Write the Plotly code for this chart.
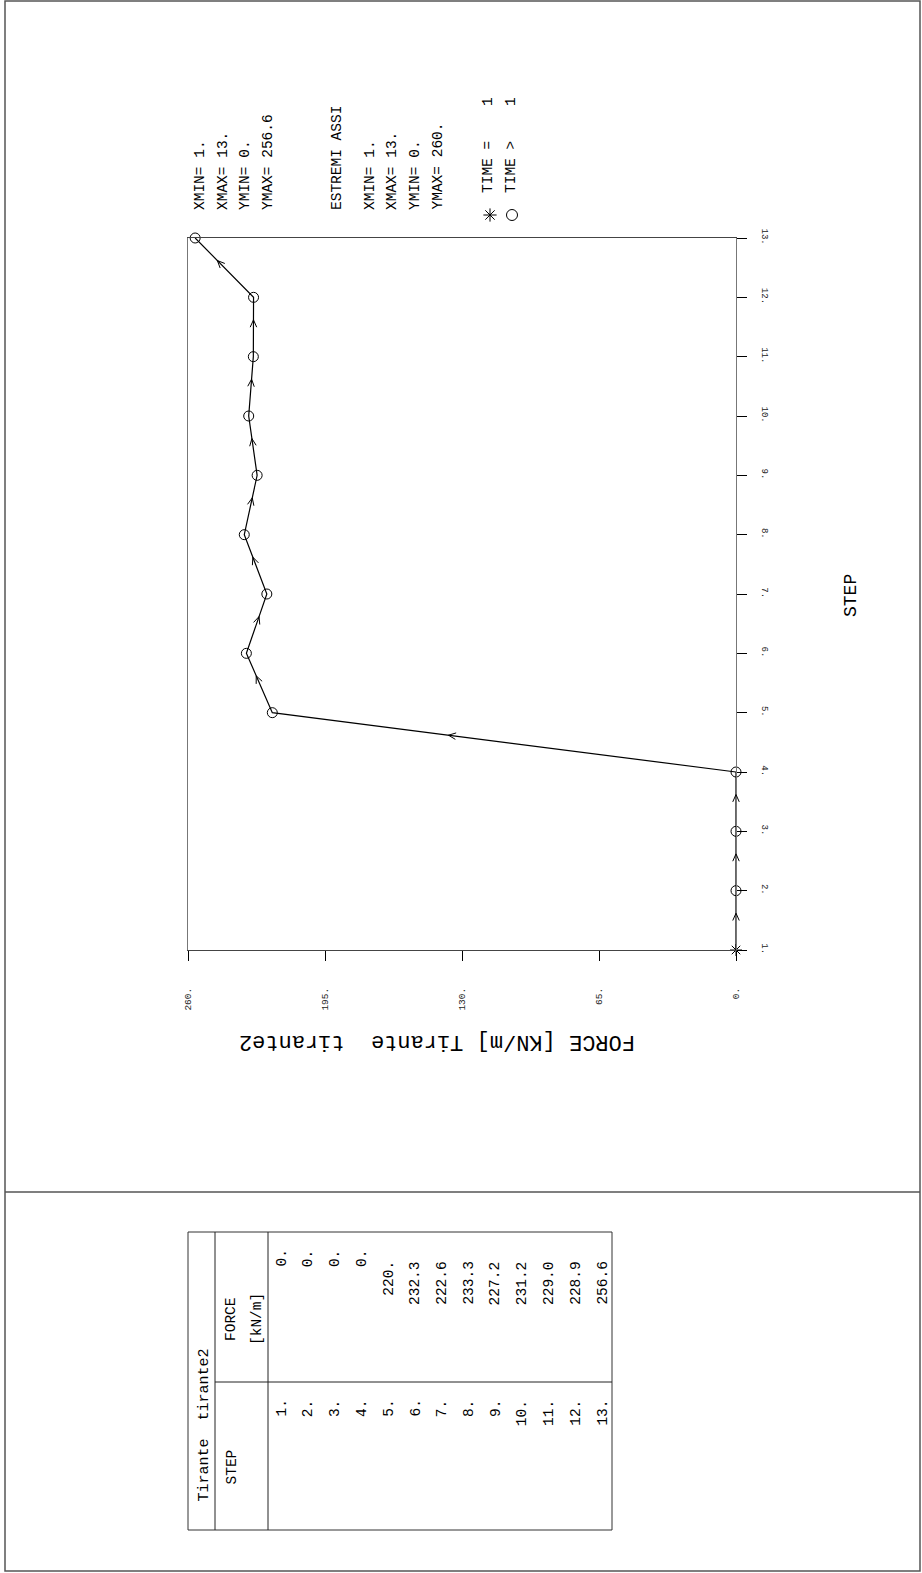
import math
import plotly.graph_objects as go

# ---------------- data ----------------
steps = [1, 2, 3, 4, 5, 6, 7, 8, 9, 10, 11, 12, 13]
force = [0.0, 0.0, 0.0, 0.0, 220.0, 232.3, 222.6, 233.3, 227.2, 231.2, 229.0, 228.9, 256.6]
step_text = ["1.", "2.", "3.", "4.", "5.", "6.", "7.", "8.", "9.", "10.", "11.", "12.", "13."]
force_text = ["0.", "0.", "0.", "0.", "220.", "232.3", "222.6", "233.3", "227.2", "231.2", "229.0", "228.9", "256.6"]
step_ticks = steps
force_ticks = [0, 65, 130, 195, 260]
force_ticktext = ["0.", "65.", "130.", "195.", "260."]
info_data = ["XMIN= 1.", "XMAX= 13.", "YMIN= 0.", "YMAX= 256.6"]
info_axes_title = "ESTREMI ASSI"
info_axes = ["XMIN= 1.", "XMAX= 13.", "YMIN= 0.", "YMAX= 260."]
legend_text = ["TIME =\u00a0\u00a0\u00a0\u00a01", "TIME >\u00a0\u00a0\u00a0\u00a01"]
x_title = "FORCE [KN/m] Tirante\u00a0\u00a0tirante2"
y_title = "STEP"
table_title = "Tirante\u00a0\u00a0tirante2"

# ---------------- layout geometry ----------------
W, H = 922, 1573
PX0, PX1 = 188, 736      # plot area left/right (pixels)
PY0, PY1 = 238, 950      # plot area top/bottom (pixels)
F_MIN, F_MAX = 0, 260
S_MIN, S_MAX = 1, 13
FONT = "Liberation Mono"


def px(x):
    return x / W


def py(y):
    return 1 - y / H


def to_px(f, s):
    return (PX1 - (f - F_MIN) / (F_MAX - F_MIN) * (PX1 - PX0),
            PY1 - (s - S_MIN) / (S_MAX - S_MIN) * (PY1 - PY0))


fig = go.Figure()

# direction chevrons along the path (drawn on the page overlay axis, derived from the data)
cx, cy = [], []
ARM, ANG, FRAC = 8.0, math.radians(24), 0.62
for i in range(len(steps) - 1):
    x0, y0 = to_px(force[i], steps[i])
    x1, y1 = to_px(force[i + 1], steps[i + 1])
    L = math.hypot(x1 - x0, y1 - y0)
    dx, dy = (x1 - x0) / L, (y1 - y0) / L
    tx, ty = x0 + FRAC * (x1 - x0), y0 + FRAC * (y1 - y0)
    bx, by = -dx, -dy
    pts = []
    for a in (ANG, -ANG):
        rx = bx * math.cos(a) - by * math.sin(a)
        ry = bx * math.sin(a) + by * math.cos(a)
        pts.append((tx + ARM * rx, ty + ARM * ry))
    for (ax_, ay_) in (pts[0], (tx, ty), pts[1]):
        cx.append(ax_)
        cy.append(ay_)
    cx.append(None)
    cy.append(None)

fig.add_trace(go.Scatter(x=force, y=steps, mode="lines+markers",
                         line=dict(color="black", width=1.2),
                         marker=dict(symbol=["asterisk-open"] + ["circle-open"] * (len(steps) - 1),
                                     size=10, color="black", line=dict(color="black", width=1)),
                         cliponaxis=False, showlegend=False, hoverinfo="skip"))
fig.add_trace(go.Scatter(x=cx, y=cy, mode="lines", line=dict(color="black", width=1),
                         xaxis="x2", yaxis="y2",
                         cliponaxis=False, showlegend=False, hoverinfo="skip"))

# legend keys on the page overlay axis
fig.add_trace(go.Scatter(x=[490, 512], y=[215, 215], mode="markers", xaxis="x2", yaxis="y2",
                         marker=dict(symbol=["asterisk-open", "circle-open"], size=11, color="black",
                                     line=dict(color="black", width=1)),
                         showlegend=False, hoverinfo="skip", cliponaxis=False))

shapes = []
def line(x0, y0, x1, y1, color="#444", width=1):
    shapes.append(dict(type="line", xref="paper", yref="paper", x0=px(x0), y0=py(y0), x1=px(x1), y1=py(y1),
                       line=dict(color=color, width=width)))

# page frame
shapes.append(dict(type="rect", xref="paper", yref="paper", x0=px(5), y0=py(1), x1=px(920), y1=py(1571),
                   line=dict(color="#555", width=1.5)))
line(5, 1192, 920, 1192, "#555", 1.5)
# table frame
shapes.append(dict(type="rect", xref="paper", yref="paper", x0=px(188), y0=py(1232), x1=px(612), y1=py(1530),
                   line=dict(color="#333", width=1)))
line(215, 1232, 215, 1530, "#222")
line(268, 1232, 268, 1530, "#222")
line(215, 1382, 612, 1382, "#222")

ann = []
def txt(text, x, y, size=14.5, angle=-90, xa="center", ya="bottom"):
    ann.append(dict(text=text, x=px(x), y=py(y), xref="paper", yref="paper", showarrow=False,
                    textangle=angle, xanchor=xa, yanchor=ya, borderpad=0, borderwidth=0,
                    font=dict(family=FONT, size=size, color="black")))

for t, x in zip(info_data, [200, 223, 245, 268]):
    txt(t, x, 210)
txt(info_axes_title, 337, 210)
for t, x in zip(info_axes, [370, 392, 415, 438]):
    txt(t, x, 210)
txt(legend_text[0], 488, 193)
txt(legend_text[1], 511, 193)

txt(x_title, 437, 1042, size=22, angle=180, ya="middle")
txt(y_title, 851, 596, size=18, ya="middle")

# table texts
txt(table_title, 204, 1502, size=15)
txt("STEP", 231, 1485)
txt("FORCE", 231, 1319, ya="middle")
txt("[kN/m]", 257, 1319, ya="middle")
for i, (s, f) in enumerate(zip(step_text, force_text)):
    x = 281 + 26.8 * i
    txt(s, x, 1400, ya="top")
    txt(f, x, 1250 if f == "0." else 1261, ya="top")

fig.update_layout(
    width=W, height=H, margin=dict(l=0, r=0, t=0, b=0, pad=0, autoexpand=False),
    paper_bgcolor="white", plot_bgcolor="rgba(0,0,0,0)",
    shapes=shapes, annotations=ann,
    xaxis=dict(domain=[px(PX0), px(PX1)], range=[F_MAX, F_MIN], tickvals=force_ticks, ticktext=force_ticktext,
               ticks="outside", ticklen=10, tickcolor="black", tickwidth=1, tickangle=-90,
               ticklabelstandoff=23, automargin=False,
               showline=True, linecolor="#444", linewidth=1, mirror=True, showgrid=False, zeroline=False,
               tickfont=dict(family=FONT, size=9.5, color="#222")),
    yaxis=dict(domain=[py(PY1), py(PY0)], range=[S_MIN, S_MAX], tickvals=step_ticks, ticktext=step_text,
               side="right", ticks="outside", ticklen=10, tickcolor="black", tickwidth=1, tickangle=90,
               ticklabelstandoff=11, automargin=False,
               showline=True, linecolor="#777", linewidth=1, mirror=True, showgrid=False, zeroline=False,
               tickfont=dict(family=FONT, size=9, color="#222")),
    xaxis2=dict(domain=[0, 1], range=[0, W], visible=False, anchor="y2", fixedrange=True),
    yaxis2=dict(domain=[0, 1], range=[H, 0], visible=False, anchor="x2", fixedrange=True),
    showlegend=False,
)

fig.write_html("out.html", config={"displayModeBar": False},
               post_script="document.body.style.margin='0';document.body.style.overflow='hidden';")
